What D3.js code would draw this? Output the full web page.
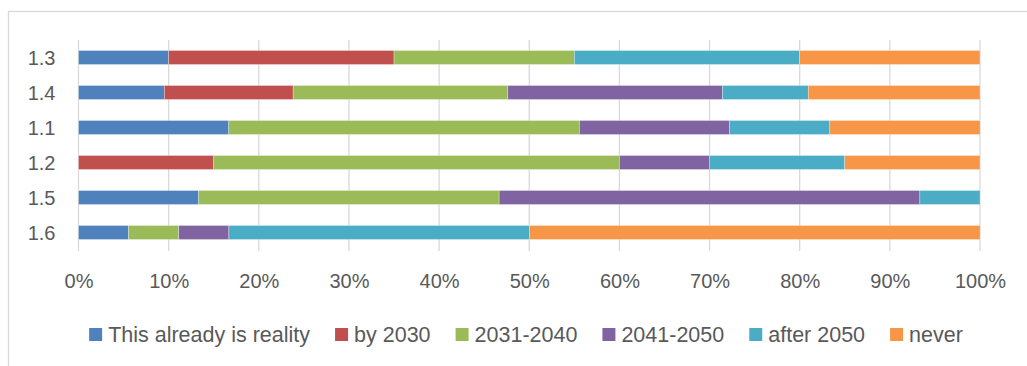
<!DOCTYPE html>
<html>
<head>
<meta charset="utf-8">
<script src="https://cdn.jsdelivr.net/npm/d3@7"></script>
<style>
  body { margin: 0; background: #fff; }
  text { font-family: "Liberation Sans", Arial, sans-serif; fill: #595959; }
</style>
</head>
<body>
<script>
const categories = ["1.3", "1.4", "1.1", "1.2", "1.5", "1.6"];
const seriesNames = ["This already is reality", "by 2030", "2031-2040", "2041-2050", "after 2050", "never"];
const colors = ["#4f81bd", "#c0504d", "#9bbb59", "#8064a2", "#4bacc6", "#f79646"];

// percent per category, same order as categories
const reality   = [10, 9.52, 16.67, 0, 13.33, 5.56];
const by2030    = [25, 14.29, 0, 15, 0, 0];
const y2031     = [20, 23.81, 38.89, 45, 33.33, 5.56];
const y2041     = [0, 23.81, 16.67, 10, 46.67, 5.56];
const after2050 = [25, 9.52, 11.11, 15, 6.67, 33.33];
const never     = [20, 19.05, 16.67, 15, 0, 50];
const xTicks = [0, 10, 20, 30, 40, 50, 60, 70, 80, 90, 100];

const seriesValues = [reality, by2030, y2031, y2041, after2050, never];
const rows = categories.map((c, i) => {
    const r = {cat: c};
    seriesNames.forEach((s, j) => r[s] = seriesValues[j][i]);
    return r;
});

const W = 1027, H = 366;
const svg = d3.select("body").append("svg")
    .attr("width", W)
    .attr("height", H);

// chart frame (only the left and top edges are visible)
svg.append("rect")
    .attr("x", 8.5).attr("y", 11.5)
    .attr("width", W + 20).attr("height", H + 20)
    .attr("fill", "none")
    .attr("stroke", "#d9d9d9")
    .attr("stroke-width", 1.3);

const x = d3.scaleLinear().domain([0, 100]).range([78.5, 980]);
const y = d3.scaleBand().domain(categories).range([40, 250])
    .paddingInner(0.6).paddingOuter(0.3);

// gridlines
svg.append("g").selectAll("line")
    .data(xTicks)
    .join("line")
    .attr("x1", d => x(d)).attr("x2", d => x(d))
    .attr("y1", 40).attr("y2", 251)
    .attr("stroke", "#d9d9d9")
    .attr("stroke-width", 1.3);

const stack = d3.stack().keys(seriesNames);
const stacked = stack(rows);

svg.append("g").selectAll("g")
    .data(stacked)
    .join("g")
    .attr("fill", (d, i) => colors[i])
    .selectAll("rect")
    .data(d => d.filter(p => p[1] - p[0] > 0))
    .join("rect")
    .attr("x", d => x(d[0]))
    .attr("width", d => x(d[1]) - x(d[0]))
    .attr("y", d => y(d.data.cat))
    .attr("height", y.bandwidth())
    .attr("stroke", "#fff")
    .attr("stroke-opacity", 0.5)
    .attr("stroke-width", 0.6);

// x axis labels
const xAxis = svg.append("g")
    .attr("transform", "translate(0,251)")
    .call(d3.axisBottom(x).tickValues(xTicks).tickSize(0).tickPadding(23).tickFormat(d => d + "%"));
xAxis.select(".domain").remove();
xAxis.selectAll("text").style("font-size", "20px").attr("fill", "#595959").style("font-family", null);

// y axis labels
const yAxis = svg.append("g")
    .attr("transform", "translate(78.5,1)")
    .call(d3.axisLeft(y).tickSize(0).tickPadding(23));
yAxis.select(".domain").remove();
yAxis.selectAll("text").style("font-size", "20px").attr("fill", "#595959").style("font-family", null);

// legend
const legend = svg.append("g");
const items = legend.selectAll("g")
    .data(seriesNames)
    .join("g");
items.append("rect")
    .attr("width", 13).attr("height", 13)
    .attr("y", 328)
    .attr("fill", (d, i) => colors[i]);
items.append("text")
    .attr("x", 19)
    .attr("y", 342)
    .style("font-size", "21.5px")
    .text(d => d);

let cx = 0;
items.each(function() {
    const g = d3.select(this);
    g.attr("transform", `translate(${cx},0)`);
    cx += 19 + g.select("text").node().getComputedTextLength() + 25;
});
const total = cx - 25;
legend.attr("transform", `translate(${526 - total / 2},0)`);
</script>
</body>
</html>
